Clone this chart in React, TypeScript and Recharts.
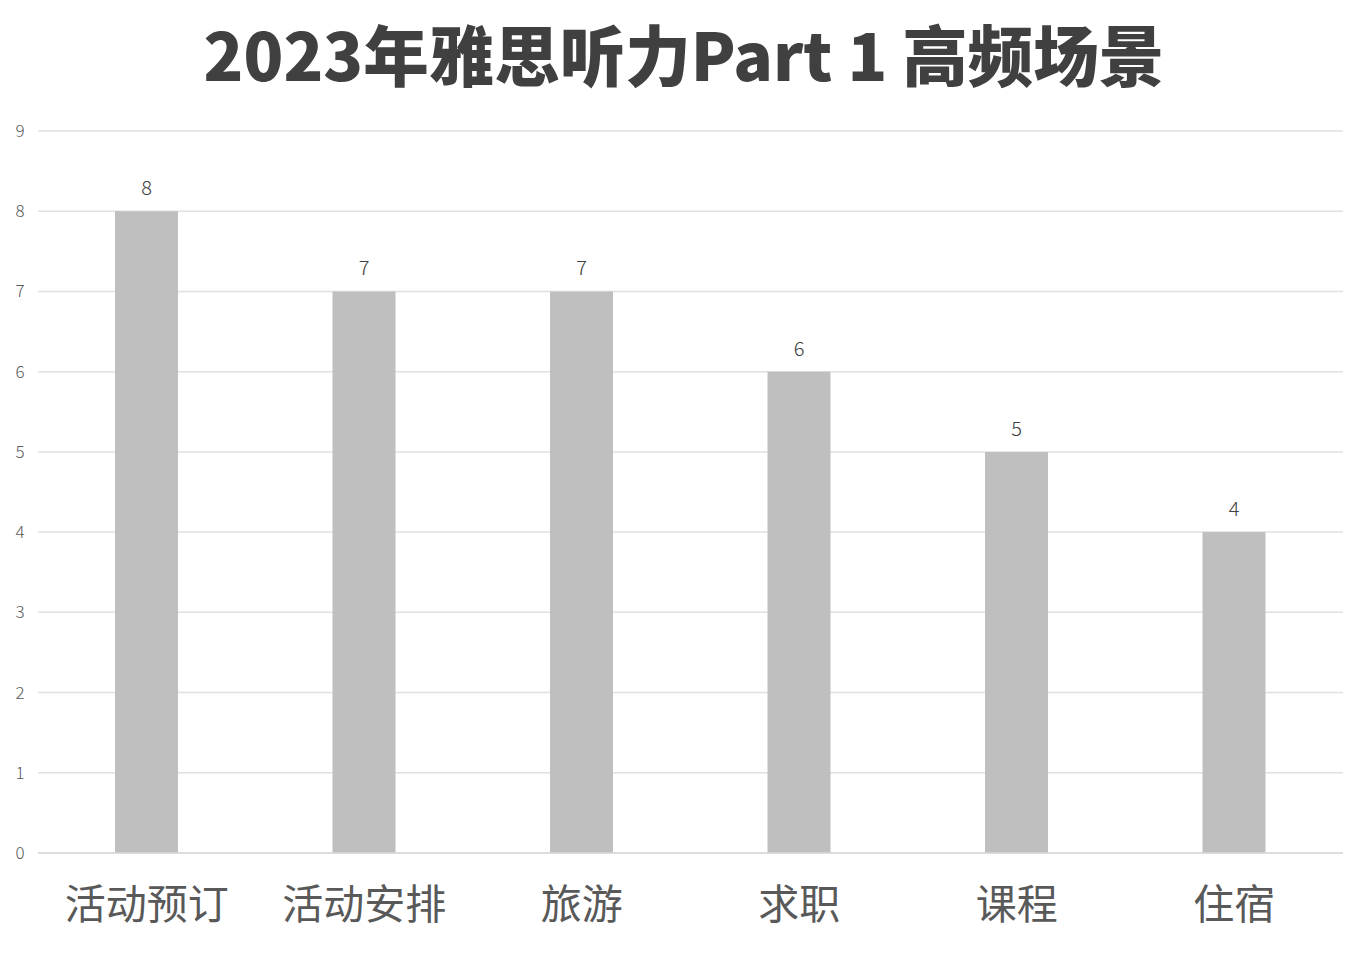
import { BarChart, Bar, XAxis, YAxis, CartesianGrid, LabelList } from 'recharts'

const categories = ['活动预订', '活动安排', '旅游', '求职', '课程', '住宿']
const counts = [8, 7, 7, 6, 5, 4]
const yTicks = [0, 1, 2, 3, 4, 5, 6, 7, 8, 9]

const data = categories.map((name, i) => ({ name, count: counts[i] }))

const FONT = '"Noto Sans CJK SC", "Noto Sans", sans-serif'

function YTick({ x, y, payload }: any) {
  return (
    <text x={20} y={y} dy={6} textAnchor="middle" fill="#595959" fontSize={17} fontWeight={300} fontFamily={FONT}>
      {payload.value}
    </text>
  )
}

function XTick({ x, y, payload }: any) {
  return (
    <text x={x} y={y} dy={58} textAnchor="middle" fill="#595959" fontSize={41} fontFamily={FONT}>
      {payload.value}
    </text>
  )
}

export default function App() {
  return (
    <div style={{ position: 'absolute', left: 0, top: 0, width: 1368, height: 957, background: '#fff' }}>
      <div
        style={{
          position: 'absolute',
          left: 0,
          top: 8,
          width: 1368,
          textAlign: 'center',
          fontFamily: FONT,
          fontWeight: 900,
          fontSize: 65.5,
          color: '#404040',
          lineHeight: '90px',
        }}
      >
        2023年雅思听力Part 1 高频场景
      </div>
      <BarChart
        width={1368}
        height={957}
        data={data}
        margin={{ top: 131, right: 25, bottom: 14, left: 0 }}
        barCategoryGap={0}
      >
        <CartesianGrid vertical={false} stroke="#e0e0e0" strokeWidth={1.5} />
        <YAxis
          width={38}
          domain={[0, 9]}
          ticks={yTicks}
          axisLine={false}
          tickLine={false}
          tick={<YTick />}
          interval={0}
        />
        <XAxis
          dataKey="name"
          height={90}
          axisLine={{ stroke: '#d9d9d9', strokeWidth: 1.5 }}
          tickLine={false}
          tick={<XTick />}
          interval={0}
        />
        <Bar dataKey="count" fill="#bfbfbf" barSize={63} isAnimationActive={false}>
          <LabelList
            dataKey="count"
            position="top"
            offset={16}
            fill="#404040"
            fontSize={20}
            fontWeight={300}
            fontFamily={FONT}
          />
        </Bar>
      </BarChart>
    </div>
  )
}
